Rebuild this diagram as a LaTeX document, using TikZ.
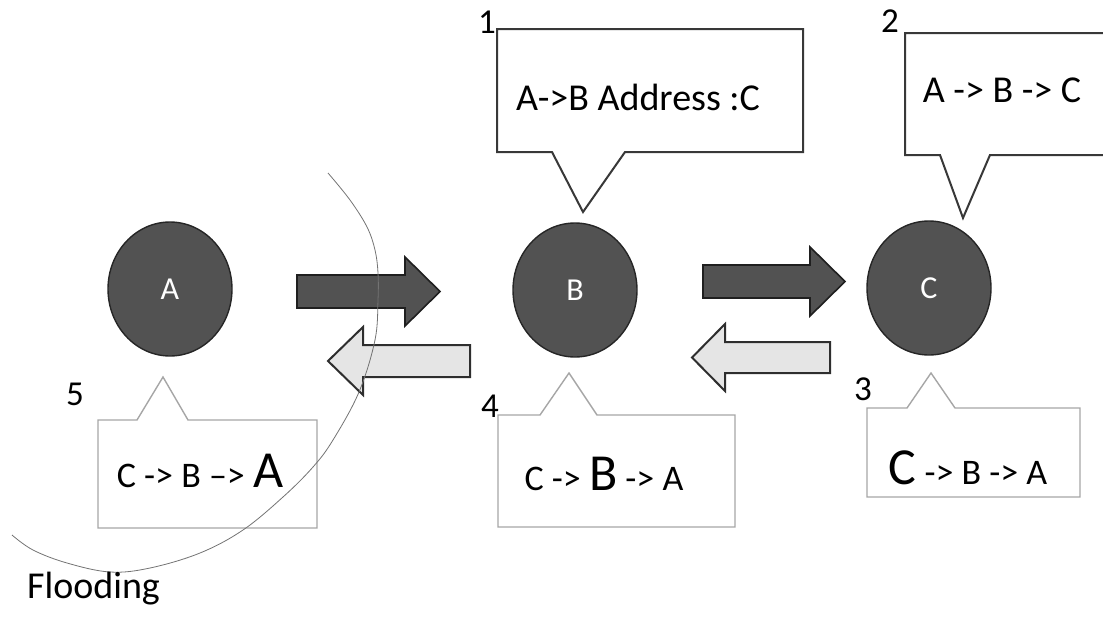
\documentclass[tikz,border=0pt]{standalone}
\usepackage{fontspec}
\setmainfont{Carlito}
\usetikzlibrary{shapes.geometric}
\newcommand\bigletter[1]{{\fontsize{52}{54}\selectfont #1}}
\begin{document}
\begin{tikzpicture}[x=1pt,y=-1pt,
  station/.style={ellipse, draw=black!85, line width=1.4pt, fill=black!68,
    minimum width=124pt, minimum height=134pt, inner sep=0pt, text=white,
    font=\fontsize{32}{34}\selectfont},
  fwd/.style={draw=black!88, line width=1.6pt, fill=black!68, line join=miter},
  back/.style={draw=black!82, line width=2pt, fill=black!10, line join=miter},
  darkcall/.style={draw=black!78, line width=2pt, fill=white, line join=miter},
  lightcall/.style={draw=black!35, line width=1.4pt, fill=white, line join=miter},
  msg/.style={anchor=base, inner sep=0pt, font=\fontsize{38}{40}\selectfont},
  route/.style={anchor=base, inner sep=0pt, font=\fontsize{36}{38}\selectfont},
  stepno/.style={anchor=base, inner sep=0pt, font=\fontsize{35}{37}\selectfont},
  floodline/.style={draw=black!55, line width=0.8pt}
]
\useasboundingbox (0,0) rectangle (1103,616);
\clip (0,0) rectangle (1103,616);

% stations
\node[station] (A) at (170,289) {A};
\node[station] (B) at (575,290) {B};
\node[station] (C) at (929,288) {C};

% forward block arrows
\draw[fwd] (297,275) -- (405,275) -- (405,257) -- (440,291.5) -- (405,326) -- (405,308) -- (297,308) -- cycle;
\draw[fwd] (703,265) -- (810,265) -- (810,247) -- (845,281.5) -- (810,316) -- (810,298) -- (703,298) -- cycle;

% returning block arrows
\draw[back] (470,345) -- (363,345) -- (363,327) -- (328,361) -- (363,395) -- (363,377) -- (470,377) -- cycle;
\draw[back] (830,342) -- (725,342) -- (725,324) -- (692,357.5) -- (725,391) -- (725,373) -- (830,373) -- cycle;

% callouts of the request
\draw[darkcall] (497,29) -- (803,29) -- (803,152) -- (625,152) -- (583,212) -- (552,152) -- (497,152) -- cycle;
\draw[darkcall] (905,33) -- (1112,33) -- (1112,155) -- (990,155) -- (963,218) -- (940,155) -- (905,155) -- cycle;

% callouts of the reply
\draw[lightcall] (867,408) -- (907,408) -- (931,373) -- (955,408) -- (1080,408) -- (1080,497) -- (867,497) -- cycle;
\draw[lightcall] (498,415) -- (540,415) -- (569,373) -- (597,415) -- (735,415) -- (735,527) -- (498,527) -- cycle;
\draw[lightcall] (98,420) -- (137,420) -- (163,377) -- (188,420) -- (317,420) -- (317,528) -- (98,528) -- cycle;

% callout texts
\node[msg] (t1) at (638,110) {A->B Address :C};
\node[msg] (t2) at (1002,102) {A -> B -> C};
\node[route] (t3) at (968,484) {\bigletter{C} -> B -> A};
\node[route] (t4) at (604,490) {C -> \bigletter{B} -> A};
\node[route] (t5) at (200,487) {C -> B \textendash> \bigletter{A}};

% step numbers
\node[stepno] (n1) at (487,33) {1};
\node[stepno] (n2) at (890,32) {2};
\node[stepno] (n3) at (863,400) {3};
\node[stepno] (n4) at (490,417) {4};
\node[stepno] (n5) at (75,405) {5};

% flooding boundary
\draw[floodline] plot[smooth, tension=0.6] coordinates {
  (328,173) (350,200) (367,227) (375,250) (378,273) (378,300) (375,340)
  (359,392) (333,440) (313,467) (283,497) (243,530) (200,553) (150,568)
  (110,572) (67,563) (33,550) (12,535)};
\node[anchor=base west, inner sep=0pt, font=\fontsize{38}{40}\selectfont] (flood) at (27,598) {Flooding};
\end{tikzpicture}
\end{document}
